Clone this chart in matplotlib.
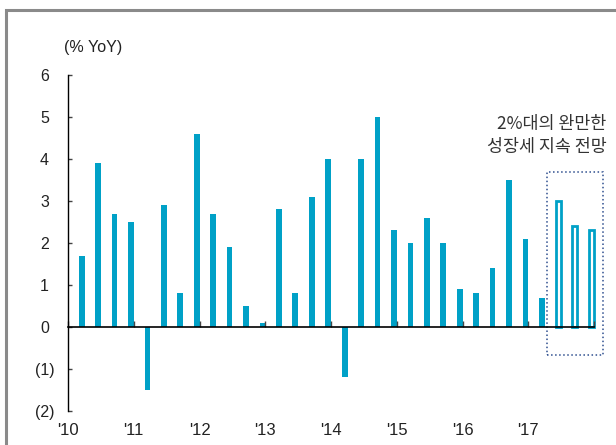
import matplotlib.pyplot as plt
import matplotlib
from matplotlib.patches import Rectangle

matplotlib.rcParams['font.family'] = ['Liberation Sans', 'Noto Sans CJK KR', 'DejaVu Sans']

# quarterly YoY growth, 2010Q1 .. 2017Q4 (last three are forecasts)
actual = [1.7, 3.9, 2.7, 2.5, -1.5, 2.9, 0.8, 4.6,
          2.7, 1.9, 0.5, 0.1, 2.8, 0.8, 3.1, 4.0,
          -1.2, 4.0, 5.0, 2.3, 2.0, 2.6, 2.0, 0.9,
          0.8, 1.4, 3.5, 2.1, 0.7]
forecast = [3.0, 2.4, 2.3]
year_labels = ["'10", "'11", "'12", "'13", "'14", "'15", "'16", "'17"]
y_ticks = [-2, -1, 0, 1, 2, 3, 4, 5, 6]
y_labels = ["(2)", "(1)", "0", "1", "2", "3", "4", "5", "6"]
note = "2%대의 완만한\n성장세 지속 전망"

blue = "#00A1C7"
n_act = len(actual)
n_all = n_act + len(forecast)

fig = plt.figure(figsize=(6.16, 4.45), dpi=100)
ax = fig.add_axes([0.1104, 0.0764, 0.8539, 0.7551])

x_act = [i + 0.83 for i in range(n_act)]
x_fc = [n_act + i + 0.83 for i in range(len(forecast))]
ax.bar(x_act, actual, width=0.35, color=blue, linewidth=0)
ax.bar(x_fc, forecast, width=0.3, facecolor="white", edgecolor=blue,
       linewidth=2, clip_on=False)

ax.set_xlim(0, n_all)
ax.set_ylim(-2, 6)

ax.spines['top'].set_visible(False)
ax.spines['right'].set_visible(False)
ax.spines['bottom'].set_position(('data', 0))
ax.spines['left'].set_linewidth(1)
ax.spines['bottom'].set_linewidth(1.2)

ax.set_yticks(y_ticks)
ax.set_yticklabels(y_labels, ha='center')
ax.tick_params(axis='y', direction='in', length=3, width=1, color='#444444',
               pad=17, labelsize=11.5, labelcolor='#222222')

ax.set_xticks(range(0, n_all + 1, 4))
ax.set_xticklabels(year_labels + [""])
ax.tick_params(axis='x', direction='in', length=4, width=1, color='#444444',
               pad=69, labelsize=12, labelcolor='#222222')

# forecast box
ax.add_patch(Rectangle((29.17, -0.67), 32.54 - 29.17, 3.69 + 0.67,
                       fill=False, edgecolor='#2F4F8F', linestyle=':',
                       linewidth=1.1, clip_on=False))
ax.text(32.75, 4.56, note, ha='right', va='center', fontsize=12.5,
        color='#333333', linespacing=1.3, family=['Noto Sans CJK KR'])

fig.text(0.151, 0.893, "(% YoY)", ha='center', va='center', fontsize=11.5,
         color='#222222')

# grey frame (top and left edges of a cropped box)
fig.patches.append(Rectangle((0.0097, -0.1), 1.2, 1.077, transform=fig.transFigure,
                             fill=False, edgecolor='#8A8A8A', linewidth=2.2))

fig.savefig("out.png", dpi=100)
